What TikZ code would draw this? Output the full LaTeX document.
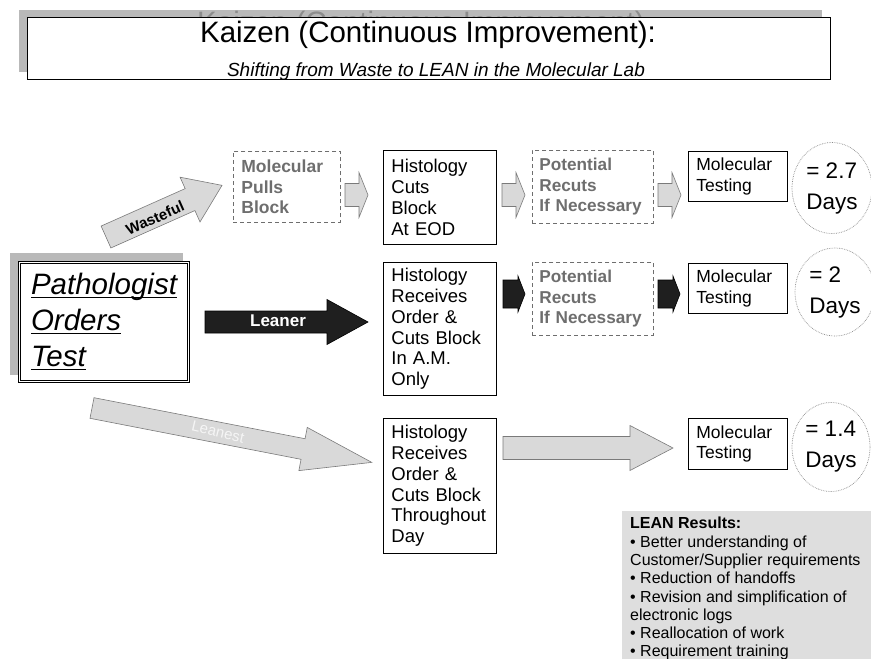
\documentclass[tikz,border=0pt]{standalone}
\usepackage{fontspec}
\setmainfont{Liberation Sans}
\usetikzlibrary{shapes.geometric}
\definecolor{shadowgray}{HTML}{B9B9B9}
\definecolor{arrowgray}{HTML}{D9D9D9}
\definecolor{edgegray}{HTML}{7A7A7A}
\definecolor{dashgray}{HTML}{6E6E6E}
\definecolor{panelgray}{HTML}{DEDEDE}
\definecolor{dotgray}{HTML}{8A8A8A}
\newcommand\myul[1]{\setbox0=\hbox{#1}\rlap{\vrule height -2.4pt depth 3.5pt width \wd0}\box0}
\newcommand\blockarrow[8]{%
  \begin{scope}[shift={(#2,#3)},rotate=#4]
    \path[#1] (0,{-(#6)/2}) -- ({#5-#8},{-(#6)/2}) -- ({#5-#8},{-(#7)/2}) -- (#5,0)
      -- ({#5-#8},{(#7)/2}) -- ({#5-#8},{(#6)/2}) -- (0,{(#6)/2}) -- cycle;
  \end{scope}}
\begin{document}
\begin{tikzpicture}[x=1pt,y=-1pt,
  box/.style={draw=black, line width=0.8pt, fill=white, anchor=north west, align=left,
    inner xsep=8pt, inner ysep=0pt, font=\fontsize{18.5}{20.8}\selectfont},
  dbox/.style={box, draw=dashgray, dash pattern=on 4pt off 3pt, text=dashgray,
    font=\fontsize{17.5}{20.6}\selectfont\bfseries},
  days/.style={ellipse, draw=dotgray, densely dotted, line width=0.7pt, align=left, inner sep=0pt,
    font=\fontsize{22.5}{31}\selectfont},
  lightarrow/.style={fill=arrowgray, draw=edgegray, line width=0.6pt},
  darkarrow/.style={fill=black!88, draw=black, line width=0.6pt},
  lblw/.style={font=\fontsize{16}{18}\selectfont\bfseries, text=white}
]
\useasboundingbox (0,0) rectangle (871,659);

% title
\fill[shadowgray] (19,10) rectangle (822,72);
\node[anchor=base, text=black!45, font=\fontsize{29.5}{32}\selectfont] (titleshadow) at (421,32)
  {Kaizen (Continuous Improvement)};
\node[draw=black, line width=0.8pt, fill=white, anchor=north west, inner sep=0pt,
  minimum width=803, minimum height=62] (titlebox) at (27,17) {};
\node[anchor=base, font=\fontsize{29.5}{32}\selectfont] (title) at (428,42)
  {Kaizen (Continuous Improvement):};
\node[anchor=base, font=\fontsize{19}{21}\selectfont\itshape] (subtitle) at (436,76)
  {Shifting from Waste to LEAN in the Molecular Lab};

% pathologist
\fill[shadowgray] (10,253) rectangle (183,375);
\node[draw=black, line width=0.8pt, double=white, double distance=1.8pt, fill=white,
  minimum width=169, minimum height=119, align=left, inner sep=0pt,
  font=\fontsize{29.5}{36}\selectfont\itshape] (path) at (104,322)
  {\myul{Pathologist}\\\myul{Orders}\\\myul{Test}};

% row 1
\blockarrow{lightarrow}{106}{237}{24}{127}{24}{49}{35}
\node[font=\fontsize{15}{18}\selectfont\bfseries, rotate=24, inner sep=0pt] (wl) at (155,218) {Wasteful};
\node[dbox, minimum width=107, minimum height=71, text width=91] (d1) at (233,151)
  {Molecular\\Pulls\\Block};
\blockarrow{lightarrow}{345}{195}{0}{23}{23}{45}{9}
\node[box, minimum width=113, minimum height=94, text width=97] (h1) at (383,150)
  {Histology\\Cuts\\Block\\At EOD};
\blockarrow{lightarrow}{502}{195}{0}{23}{23}{45}{9}
\node[dbox, minimum width=121, minimum height=73, text width=107, inner xsep=7pt,
  font=\fontsize{17.2}{20.6}\selectfont\bfseries] (d2) at (532,150)
  {Potential\\Recuts\\If Necessary};
\blockarrow{lightarrow}{658}{195}{0}{23}{23}{45}{9}
\node[box, minimum width=99, minimum height=50, text width=83, font=\fontsize{17.5}{20.5}\selectfont] (m1) at (688,151)
  {Molecular\\Testing};
\node[days, minimum width=80, minimum height=91] (c1) at (832,188) {= 2.7\\Days};

% row 2
\blockarrow{darkarrow}{205}{322}{0}{163}{22}{45}{41}
\node[lblw, font=\fontsize{17}{18}\selectfont\bfseries] (ll) at (278,321) {Leaner};
\node[box, minimum width=113, minimum height=133, text width=97] (h2) at (383,262)
  {Histology\\Receives\\Order \&\\Cuts Block\\In A.M.\\Only};
\blockarrow{darkarrow}{503}{294}{0}{22}{28}{36}{7}
\node[dbox, minimum width=121, minimum height=73, text width=107, inner xsep=7pt,
  font=\fontsize{17.2}{20.6}\selectfont\bfseries] (d3) at (532,262)
  {Potential\\Recuts\\If Necessary};
\blockarrow{darkarrow}{658}{294}{0}{22}{28}{36}{7}
\node[box, minimum width=99, minimum height=50, text width=83, font=\fontsize{17.5}{20.5}\selectfont] (m2) at (688,263)
  {Molecular\\Testing};
\node[days, minimum width=80, minimum height=88] (c2) at (835,292) {= 2\\Days};

% row 3
\blockarrow{lightarrow}{92}{408}{-11}{285}{21}{44}{70}
\node[font=\fontsize{15}{18}\selectfont, text=white!96!black, rotate=-13, inner sep=0pt] (le) at (218,432) {Leanest};
\node[box, minimum width=113, minimum height=135, text width=97] (h3) at (383,418)
  {Histology\\Receives\\Order \&\\Cuts Block\\Throughout\\Day};
\blockarrow{lightarrow}{503}{448}{0}{170}{23}{45}{43}
\node[box, minimum width=99, minimum height=51, text width=83, font=\fontsize{17.5}{20.5}\selectfont] (m3) at (688,418)
  {Molecular\\Testing};
\node[days, minimum width=78, minimum height=89] (c3) at (831,447) {= 1.4\\Days};

% LEAN results
\fill[panelgray] (622,511) rectangle (871,659);
\node[anchor=north west, align=left, inner sep=6pt, font=\fontsize{16}{18.3}\selectfont] (lean) at (624,511)
  {\textbf{LEAN Results:}\\• Better understanding of\\Customer/Supplier requirements\\• Reduction of handoffs\\• Revision and simplification of\\electronic logs\\• Reallocation of work\\• Requirement training};
\end{tikzpicture}
\end{document}
